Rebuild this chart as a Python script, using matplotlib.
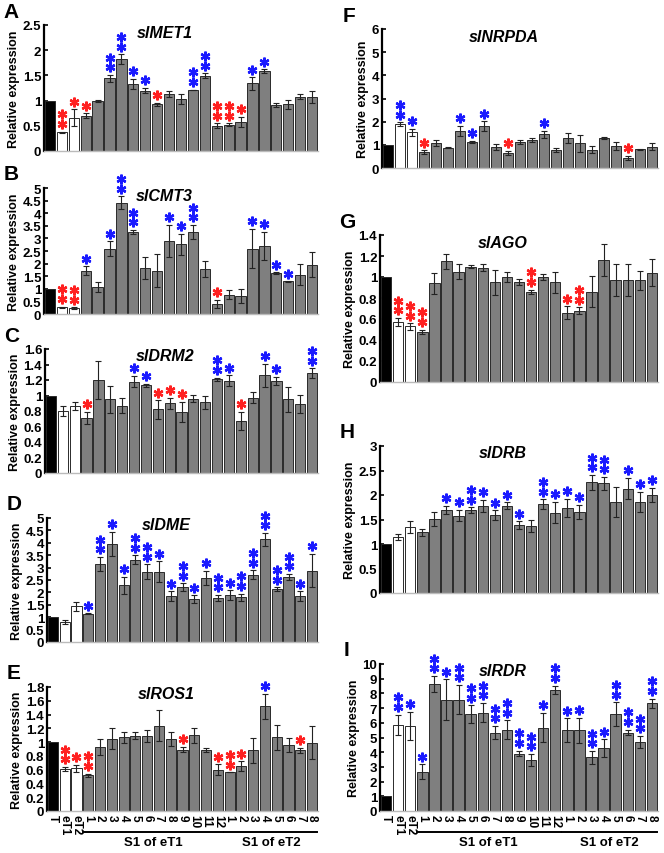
import matplotlib
matplotlib.use('Agg')
import matplotlib.pyplot as plt
import matplotlib.transforms as mtransforms
from matplotlib.ticker import FuncFormatter

plt.rcParams['font.family'] = ['Liberation Sans', 'DejaVu Sans']
plt.rcParams['font.weight'] = 'bold'

# bar labels: T, eT1, eT2, 12 S1 lines of eT1, 8 S1 lines of eT2
tick_labels = ['T', 'eT1', 'eT2'] + [str(i) for i in range(1, 13)] + [str(i) for i in range(1, 9)]

# ---- data: mean, error, significance marks ----
# marks: 0 none, 1/2 = red * / **, -1/-2 = blue * / **
imet1 = [1.0, 0.37, 0.66, 0.70, 0.99, 1.44, 1.82, 1.33, 1.20, 0.93, 1.14, 1.04, 1.22, 1.49, 0.50,
         0.52, 0.58, 1.34, 1.58, 0.91, 0.93, 1.08, 1.08]
imet1_err = [0, 0.01, 0.17, 0.05, 0.02, 0.07, 0.10, 0.10, 0.05, 0.03, 0.06, 0.10, 0.0, 0.05, 0.05,
             0.03, 0.10, 0.12, 0.04, 0.04, 0.09, 0.05, 0.12]
imet1_sig = [0, 2, 1, 1, 0, -2, -2, -1, -1, 1, 0, 0, -2, -2, 2, 2, 1, -1, -1, 0, 0, 0, 0]

icmt3 = [1.0, 0.27, 0.23, 1.72, 1.06, 2.59, 4.42, 3.26, 1.82, 1.72, 2.90, 2.77, 3.25, 1.78, 0.40,
         0.76, 0.73, 2.59, 2.70, 1.63, 1.29, 1.56, 1.96]
icmt3_err = [0, 0.02, 0.04, 0.17, 0.20, 0.30, 0.25, 0.07, 0.45, 0.65, 0.65, 0.42, 0.28, 0.33, 0.17,
             0.18, 0.28, 0.78, 0.55, 0.03, 0.01, 0.42, 0.50]
icmt3_sig = [0, 2, 2, -1, 0, -1, -2, -2, 0, 0, -1, -1, -2, 0, 1, 0, 0, -1, -1, -1, -1, 0, 0]

idrm2 = [1.0, 0.80, 0.86, 0.71, 1.20, 0.95, 0.87, 1.18, 1.13, 0.82, 0.90, 0.79, 0.96, 0.91, 1.21,
         1.19, 0.67, 0.97, 1.26, 1.19, 0.95, 0.89, 1.29]
idrm2_err = [0, 0.06, 0.05, 0.08, 0.25, 0.17, 0.10, 0.07, 0.02, 0.12, 0.07, 0.13, 0.05, 0.08, 0.02,
             0.07, 0.12, 0.07, 0.15, 0.05, 0.16, 0.12, 0.06]
idrm2_sig = [0, 0, 0, 1, 0, 0, 0, -1, -1, 1, 1, 1, 0, 0, -2, -1, 1, 0, -1, -1, 0, 0, -2]

idme = [1.0, 0.80, 1.45, 1.14, 3.15, 3.95, 2.28, 3.31, 2.83, 2.83, 1.85, 2.21, 1.73, 2.59, 1.77,
        1.88, 1.81, 2.71, 4.14, 2.14, 2.61, 1.85, 2.88]
idme_err = [0, 0.08, 0.18, 0.02, 0.28, 0.50, 0.35, 0.18, 0.30, 0.42, 0.20, 0.15, 0.15, 0.28, 0.12,
            0.20, 0.14, 0.18, 0.25, 0.07, 0.13, 0.20, 0.68]
idme_sig = [0, 0, 0, -1, -2, -1, -1, -2, -2, -1, -1, -2, -1, -1, -2, -1, -2, -2, -2, -2, -2, -1, -1]

iros1 = [1.0, 0.61, 0.62, 0.52, 0.93, 1.05, 1.07, 1.09, 1.09, 1.24, 1.05, 0.89, 1.10, 0.89, 0.60,
         0.56, 0.65, 0.88, 1.52, 1.07, 0.96, 0.88, 0.99]
iros1_err = [0, 0.03, 0.05, 0.02, 0.11, 0.15, 0.08, 0.05, 0.09, 0.23, 0.10, 0.04, 0.11, 0.03, 0.08,
             0.0, 0.07, 0.18, 0.18, 0.18, 0.10, 0.04, 0.24]
iros1_sig = [0, 2, 1, 2, 0, 0, 0, 0, 0, 0, 0, 1, 0, 0, 1, 2, 1, 0, -1, 0, 0, 1, 0]

inrpda = [1.0, 1.90, 1.54, 0.69, 1.09, 0.88, 1.61, 1.11, 1.81, 0.89, 0.65, 1.11, 1.21, 1.45, 0.79,
          1.28, 1.06, 0.79, 1.29, 0.94, 0.43, 0.81, 0.92]
inrpda_err = [0, 0.07, 0.15, 0.08, 0.12, 0.03, 0.22, 0.05, 0.20, 0.13, 0.10, 0.08, 0.10, 0.15, 0.08,
              0.22, 0.35, 0.15, 0.04, 0.17, 0.10, 0.02, 0.16]
inrpda_sig = [0, -2, -1, 1, 0, 0, -1, -1, -1, 0, 1, 0, 0, -1, 0, 0, 0, 0, 0, 0, 1, 0, 0]

iago = [1.0, 0.57, 0.53, 0.48, 0.94, 1.15, 1.05, 1.10, 1.09, 0.95, 1.00, 0.95, 0.86, 1.00, 0.95,
        0.66, 0.68, 0.86, 1.16, 0.97, 0.97, 0.97, 1.04]
iago_err = [0, 0.04, 0.03, 0.02, 0.10, 0.07, 0.07, 0.01, 0.03, 0.12, 0.05, 0.03, 0.02, 0.03, 0.10,
            0.06, 0.03, 0.15, 0.15, 0.15, 0.15, 0.09, 0.13]
iago_sig = [0, 2, 2, 2, 0, 0, 0, 0, 0, 0, 0, 0, 2, 0, 0, 1, 2, 0, 0, 0, 0, 0, 0]

idrb = [1.0, 1.14, 1.35, 1.24, 1.51, 1.70, 1.58, 1.69, 1.78, 1.59, 1.78, 1.38, 1.36, 1.81, 1.64,
        1.74, 1.66, 2.26, 2.24, 1.86, 2.13, 1.86, 2.00]
idrb_err = [0, 0.06, 0.12, 0.07, 0.15, 0.08, 0.12, 0.06, 0.12, 0.10, 0.07, 0.08, 0.12, 0.10, 0.22,
            0.18, 0.14, 0.15, 0.13, 0.30, 0.22, 0.20, 0.15]
idrb_sig = [0, 0, 0, 0, 0, -1, -1, -2, -1, -1, -1, -1, 0, -2, -1, -1, -1, -2, -2, 0, -1, -1, -1]

irdr = [1.0, 5.86, 5.80, 2.68, 8.64, 7.57, 7.57, 6.59, 6.70, 5.34, 5.52, 3.91, 3.48, 5.68, 8.23,
        5.50, 5.50, 3.64, 4.27, 6.59, 5.34, 4.70, 7.34]
irdr_err = [0, 0.70, 0.95, 0.50, 0.55, 1.40, 1.00, 0.60, 0.65, 0.45, 0.65, 0.20, 0.40, 1.00, 0.30,
            0.80, 0.85, 0.45, 0.60, 0.80, 0.20, 0.40, 0.30]
irdr_sig = [0, -2, -1, -1, -2, -1, -2, -2, -2, -2, -2, -2, -2, -1, -2, -1, -1, -2, -1, -2, -2, -2, -2]

group_names = ['S1 of eT1', 'S1 of eT2']

# panel: letter, gene, values, err, sig, ymax, ystep, rect (px: left, top, width, height)
panels = [
    ('A', 'slMET1', imet1, imet1_err, imet1_sig, 2.5, 0.5, (44, 26, 274, 126)),
    ('B', 'slCMT3', icmt3, icmt3_err, icmt3_sig, 5, 0.5, (44, 189, 274, 126)),
    ('C', 'slDRM2', idrm2, idrm2_err, idrm2_sig, 1.6, 0.2, (45, 350, 273, 124)),
    ('D', 'slDME', idme, idme_err, idme_sig, 5, 0.5, (47, 519, 271, 124)),
    ('E', 'slROS1', iros1, iros1_err, iros1_sig, 1.8, 0.2, (47, 688, 271, 124)),
    ('F', 'slNRPDA', inrpda, inrpda_err, inrpda_sig, 6, 1, (382, 30, 276, 139)),
    ('G', 'slAGO', iago, iago_err, iago_sig, 1.4, 0.2, (380, 236, 278, 147)),
    ('H', 'slDRB', idrb, idrb_err, idrb_sig, 3, 0.5, (380, 447, 278, 147)),
    ('I', 'slRDR', irdr, irdr_err, irdr_sig, 10, 1, (380, 665, 278, 147)),
]

W, H = 664, 854
fig = plt.figure(figsize=(W / 100, H / 100), dpi=100)

n = len(tick_labels)
x = list(range(n))
colors = ['black', 'white', 'white'] + ['#7f7f7f'] * 20

for letter, gene, vals, errs, sig, ymax, ystep, (l, t, w, h) in panels:
    ax = fig.add_axes([l / W, 1 - (t + h) / H, w / W, h / H])
    ax.bar(x, vals, width=0.86, color=colors, edgecolor='#2a2a2a', linewidth=0.7, zorder=2)
    ax.errorbar(x[1:], vals[1:], yerr=errs[1:], fmt='none', ecolor='#222222',
                elinewidth=0.8, capsize=2, capthick=0.8, zorder=3)

    # significance asterisks stacked above the error bars
    for i, s in enumerate(sig):
        if s == 0:
            continue
        col = '#ff2020' if s > 0 else '#1a1aff'
        for k in range(abs(s)):
            off = mtransforms.ScaledTranslation(0, (5.5 + 7 * k) / 72, fig.dpi_scale_trans)
            ax.plot(i, vals[i] + errs[i], marker=(6, 2, 0), ms=7, mew=1.7, color=col,
                    transform=ax.transData + off, clip_on=False, zorder=4)

    ax.set_xlim(-0.5, n - 0.5)
    ax.set_ylim(0, ymax)
    nt = int(round(ymax / ystep))
    ax.set_yticks([ystep * k for k in range(nt + 1)])
    ax.yaxis.set_major_formatter(FuncFormatter(lambda v, p: ('%.1f' % v).rstrip('0').rstrip('.')))
    ax.tick_params(axis='y', direction='in', length=3, width=1.2, labelsize=9.5, pad=2)
    for lab in ax.get_yticklabels():
        lab.set_fontweight('bold')
    ax.set_ylabel('Relative expression', fontsize=9, fontweight='bold', labelpad=2)

    for sp in ['top', 'right']:
        ax.spines[sp].set_visible(False)
    ax.spines['left'].set_linewidth(1.6)
    ax.spines['bottom'].set_color('#bbbbbb')
    ax.spines['bottom'].set_linewidth(1.0)

    if letter in ('E', 'I'):
        ax.set_xticks(x)
        ax.set_xticklabels(tick_labels, rotation=270, fontsize=8.5, fontweight='bold')
        ax.tick_params(axis='x', length=0, pad=2)
        # group lines + names under the tick labels
        trans = mtransforms.blended_transform_factory(ax.transData, ax.transAxes)
        y_line = -21 / h
        y_txt = -31 / h
        for gname, (a, b) in zip(group_names, [(3, 14), (15, 22)]):
            ax.plot([a - 0.45, b + 0.45], [y_line, y_line], color='black', lw=1.4,
                    transform=trans, clip_on=False)
            ax.text((a + b) / 2, y_txt, gname, transform=trans, ha='center', va='center',
                    fontsize=9.5, fontweight='bold')
    else:
        ax.set_xticks([])

    ax.text(0.44, 1 - 7 / h, gene, transform=ax.transAxes, ha='center', va='center',
            fontsize=11.5, fontweight='bold', fontstyle='italic')
    fig.text((l - 33) / W, 1 - (t - 14) / H, letter, ha='center', va='center',
             fontsize=15, fontweight='bold')

fig.savefig('out.png', dpi=100)
